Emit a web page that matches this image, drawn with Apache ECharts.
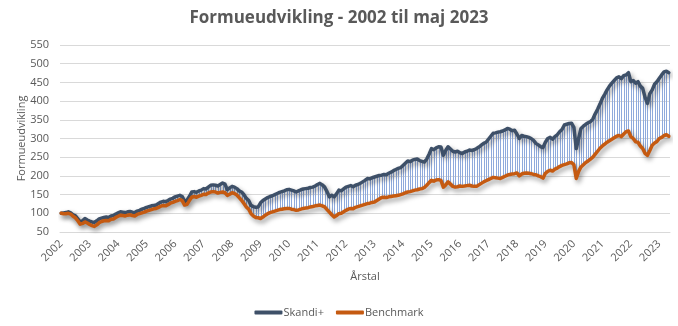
<!DOCTYPE html>
<html>
<head>
<meta charset="utf-8">
<script src="https://cdn.jsdelivr.net/npm/echarts@6/dist/echarts.min.js"></script>
<style>
  html, body { margin: 0; padding: 0; background: #fff; }
  #chart { width: 678px; height: 326px; }
</style>
</head>
<body>
<div id="chart"></div>
<script>
// Year labels shown on the x axis (one tick per January)
const years = ['2002','2003','2004','2005','2006','2007','2008','2009','2010','2011','2012',
  '2013','2014','2015','2016','2017','2018','2019','2020','2021','2022','2023'];
const lastYearMonths = 5; // data runs to May 2023

// Monthly wealth development, indexed to 100 at start of 2002
const skandiPlus = [
  100, 101, 102, 104, 101, 96, 93, 85, 77, 80, 86, 82,          // 2002
  79, 77, 76, 80, 85, 87, 89, 90, 89, 93, 94, 98,               // 2003
  101, 104, 103, 102, 104, 105, 103, 102, 106, 108, 111, 113,   // 2004
  116, 118, 120, 121, 122, 126, 130, 132, 131, 134, 138, 140,   // 2005
  144, 146, 148, 145, 132, 135, 145, 157, 158, 156, 160, 162,   // 2006
  166, 165, 170, 175, 176, 175, 173, 177, 181, 178, 163, 168,   // 2007
  172, 170, 166, 160, 157, 150, 140, 134, 121, 118, 116, 117,   // 2008
  128, 134, 138, 142, 145, 147, 150, 153, 156, 158, 160, 163,   // 2009
  164, 162, 160, 157, 160, 163, 165, 166, 167, 169, 170, 173,   // 2010
  177, 180, 176, 170, 158, 144, 148, 144, 152, 162, 160, 165,   // 2011
  170, 172, 174, 171, 175, 177, 180, 184, 188, 193, 192, 195,   // 2012
  197, 199, 201, 202, 204, 203, 207, 210, 214, 217, 220, 222,   // 2013
  228, 234, 240, 238, 242, 244, 245, 241, 239, 237, 245, 258,   // 2014
  273, 270, 275, 278, 277, 255, 268, 278, 272, 266, 264, 266,   // 2015
  262, 260, 264, 266, 269, 268, 270, 273, 277, 282, 287, 290,   // 2016
  298, 306, 314, 315, 317, 318, 320, 323, 327, 325, 321, 322,   // 2017
  312, 300, 308, 306, 305, 303, 300, 295, 287, 283, 278, 276,   // 2018
  290, 300, 303, 298, 305, 310, 318, 324, 336, 338, 340, 341,   // 2019
  330, 273, 300, 327, 333, 338, 342, 345, 352, 366, 378, 392,   // 2020
  407, 418, 430, 440, 448, 455, 462, 465, 460, 468, 470, 476,   // 2021
  452, 455, 448, 452, 440, 434, 410, 394, 420, 430, 445, 452,   // 2022
  461, 470, 478, 480, 476                                        // 2023
];
const benchmark = [
  100, 99, 99, 100, 98, 92, 88, 80, 71, 73, 77, 74,             // 2002
  70, 67, 65, 69, 75, 78, 80, 81, 80, 84, 85, 89,               // 2003
  92, 95, 94, 93, 95, 96, 94, 93, 97, 99, 101, 103,             // 2004
  106, 108, 110, 112, 113, 116, 119, 121, 120, 123, 127, 129,   // 2005
  132, 134, 137, 134, 122, 124, 134, 143, 145, 143, 146, 148,   // 2006
  151, 150, 154, 157, 158, 157, 154, 156, 157, 155, 148, 151,   // 2007
  155, 153, 149, 142, 135, 126, 117, 111, 99, 93, 89, 88,       // 2008
  86, 90, 95, 99, 102, 104, 106, 108, 110, 111, 112, 113,       // 2009
  113, 111, 110, 108, 109, 111, 113, 114, 115, 117, 118, 120,   // 2010
  121, 122, 120, 117, 110, 103, 96, 90, 94, 99, 100, 104,       // 2011
  108, 111, 113, 112, 116, 118, 120, 122, 124, 126, 127, 129,   // 2012
  130, 134, 138, 142, 143, 142, 144, 145, 146, 147, 148, 150,   // 2013
  152, 155, 157, 158, 160, 162, 163, 165, 166, 169, 175, 182,   // 2014
  188, 186, 189, 190, 188, 170, 176, 184, 178, 172, 170, 171,   // 2015
  173, 172, 173, 174, 175, 173, 172, 172, 176, 180, 184, 187,   // 2016
  190, 193, 196, 195, 194, 193, 196, 199, 202, 204, 205, 206,   // 2017
  208, 200, 205, 207, 208, 207, 206, 204, 203, 200, 198, 194,   // 2018
  207, 212, 215, 213, 218, 221, 225, 228, 230, 232, 235, 236,   // 2019
  230, 193, 212, 224, 230, 236, 240, 245, 250, 258, 266, 274,   // 2020
  280, 285, 290, 294, 298, 302, 306, 308, 305, 312, 318, 320,   // 2021
  305, 300, 291, 290, 280, 273, 260, 255, 268, 282, 288, 292,   // 2022
  300, 303, 308, 310, 306                                        // 2023
];

// Month categories: "YYYY-MM"
const months = [];
years.forEach((y, yi) => {
  const n = yi === years.length - 1 ? lastYearMonths : 12;
  for (let m = 1; m <= n; m++) months.push(y + '-' + String(m).padStart(2, '0'));
});

// High-low connector data: [monthIndex, high, low]
const spans = months.map((_, i) => [i, skandiPlus[i], benchmark[i]]);

const FONT = "'Open Sans', 'Liberation Sans', sans-serif";
const GREY = '#595959';
const shadow = { shadowColor: 'rgba(0,0,0,0.4)', shadowBlur: 5, shadowOffsetX: 2, shadowOffsetY: 3 };

const chart = echarts.init(document.getElementById('chart'), null, { renderer: 'canvas' });
chart.setOption({
  animation: false,
  backgroundColor: '#fff',
  textStyle: { fontFamily: FONT },
  title: {
    text: 'Formueudvikling - 2002 til maj 2023',
    left: 'center', top: 5,
    textStyle: { fontFamily: FONT, fontSize: 17, fontWeight: 'bold', color: GREY }
  },
  grid: { left: 60, right: 8, top: 45, bottom: 94 },
  legend: {
    data: ['Skandi+', 'Benchmark'],
    bottom: 3, left: 'center',
    icon: 'roundRect', itemWidth: 28, itemHeight: 4, itemGap: 12,
    textStyle: { fontFamily: FONT, fontSize: 11, color: GREY, padding: [0, 0, 0, -4] }
  },
  xAxis: {
    type: 'category',
    data: months,
    boundaryGap: true,
    name: 'Årstal', nameLocation: 'middle', nameGap: 39, nameMoveOverlap: false,
    nameTextStyle: { fontFamily: FONT, fontSize: 11, color: GREY },
    axisLine: { lineStyle: { color: '#D9D9D9' } },
    axisTick: { show: false },
    axisLabel: {
      interval: (i) => i % 12 === 0,
      formatter: (v) => v.slice(0, 4),
      rotate: 45, margin: 10,
      fontFamily: FONT, fontSize: 11, color: GREY
    },
    splitLine: { show: false }
  },
  yAxis: {
    type: 'value', min: 50, max: 550, interval: 50,
    name: 'Formueudvikling', nameLocation: 'middle', nameGap: 33, nameMoveOverlap: false,
    nameTextStyle: { fontFamily: FONT, fontSize: 11, color: GREY },
    axisLine: { show: false }, axisTick: { show: false },
    axisLabel: { margin: 11, fontFamily: FONT, fontSize: 11, color: GREY },
    splitLine: { lineStyle: { color: '#D9D9D9', width: 1 } }
  },
  series: [
    {
      type: 'custom',
      name: 'spread',
      data: spans,
      z: 1,
      silent: true,
      renderItem: (params, api) => {
        const i = api.value(0);
        const hi = api.coord([i, api.value(1)]);
        const lo = api.coord([i, api.value(2)]);
        const x = Math.round(hi[0]) + 0.5;
        return {
          type: 'line',
          shape: { x1: x, y1: hi[1], x2: x, y2: lo[1] },
          style: { stroke: '#8FAADC', lineWidth: 1 }
        };
      }
    },
    {
      type: 'line', name: 'Skandi+', data: skandiPlus, z: 3,
      showSymbol: false, symbol: 'none',
      itemStyle: { color: '#3E5068' },
      lineStyle: Object.assign({ color: '#3E5068', width: 3.5, cap: 'round', join: 'round' }, shadow)
    },
    {
      type: 'line', name: 'Benchmark', data: benchmark, z: 3,
      showSymbol: false, symbol: 'none',
      itemStyle: { color: '#C55A11' },
      lineStyle: Object.assign({ color: '#C55A11', width: 3.5, cap: 'round', join: 'round' }, shadow)
    }
  ]
});
</script>
</body>
</html>
